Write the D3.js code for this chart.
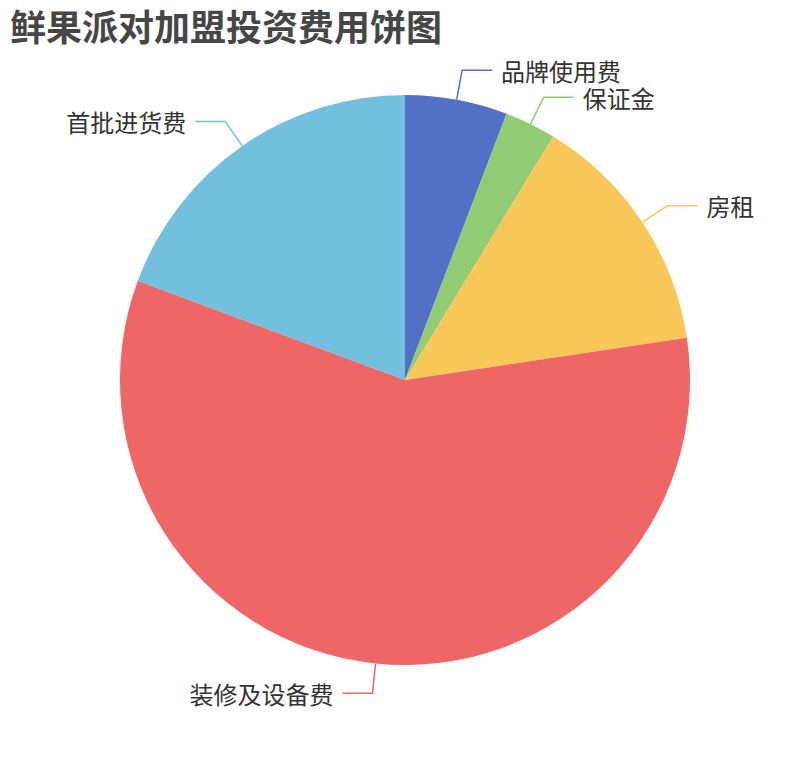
<!DOCTYPE html>
<html>
<head>
<meta charset="utf-8">
<style>
  body { margin: 0; background: #fff; }
  text { font-family: "Noto Sans CJK SC", "Noto Sans", sans-serif; }
  .title { font-size: 36px; font-weight: bold; fill: #464646; }
  .label { font-size: 24px; fill: #333; }
</style>
<script src="https://cdn.jsdelivr.net/npm/d3@7"></script>
</head>
<body>
<div id="chart"></div>
<script>
// data (万元)
var categories = ["品牌使用费", "保证金", "房租", "装修及设备费", "首批进货费"];
var values = [3, 1.5, 7.2, 30, 10];
var colors = ["#5470c6", "#91cc75", "#fac858", "#ee6666", "#73c0de"];
var titleText = "鲜果派对加盟投资费用饼图";

var width = 810, height = 760,
    cx = 405, cy = 380,
    radius = 285,
    lineLen = 30, lineLen2 = 30, textGap = 9;

var svg = d3.select("#chart").append("svg")
    .attr("width", width)
    .attr("height", height);

svg.append("text")
    .attr("class", "title")
    .attr("x", 10)
    .attr("y", 25)
    .attr("dominant-baseline", "central")
    .text(titleText);

var dataset = categories.map(function (c, i) {
  return { name: c, value: values[i], color: colors[i] };
});

var pie = d3.pie()
    .sort(null)
    .value(function (d) { return d.value; });

var arcs = pie(dataset);

var arc = d3.arc().innerRadius(0).outerRadius(radius);
var edgeArc = d3.arc().innerRadius(radius).outerRadius(radius);
var elbowArc = d3.arc().innerRadius(radius + lineLen).outerRadius(radius + lineLen);

var g = svg.append("g")
    .attr("transform", "translate(" + cx + "," + cy + ")");

g.selectAll(".slice")
  .data(arcs)
  .enter().append("path")
  .attr("class", "slice")
  .attr("d", arc)
  .style("fill", function (d) { return d.data.color; });

function side(d) {
  var mid = (d.startAngle + d.endAngle) / 2;
  return Math.sin(mid) < 0 ? -1 : 1;
}

g.selectAll(".label-line")
  .data(arcs)
  .enter().append("polyline")
  .attr("class", "label-line")
  .attr("points", function (d) {
    var p1 = edgeArc.centroid(d),
        p2 = elbowArc.centroid(d),
        p3 = [p2[0] + side(d) * lineLen2, p2[1]];
    return [p1, p2, p3].map(function (p) { return p.join(","); }).join(" ");
  })
  .style("fill", "none")
  .style("stroke", function (d) { return d.data.color; })
  .style("stroke-width", 1.5);

g.selectAll(".label")
  .data(arcs)
  .enter().append("text")
  .attr("class", "label")
  .attr("x", function (d) {
    var p2 = elbowArc.centroid(d);
    return p2[0] + side(d) * (lineLen2 + textGap);
  })
  .attr("y", function (d) { return elbowArc.centroid(d)[1]; })
  .attr("dominant-baseline", "central")
  .style("text-anchor", function (d) { return side(d) < 0 ? "end" : "start"; })
  .text(function (d) { return d.data.name; });
</script>
</body>
</html>
